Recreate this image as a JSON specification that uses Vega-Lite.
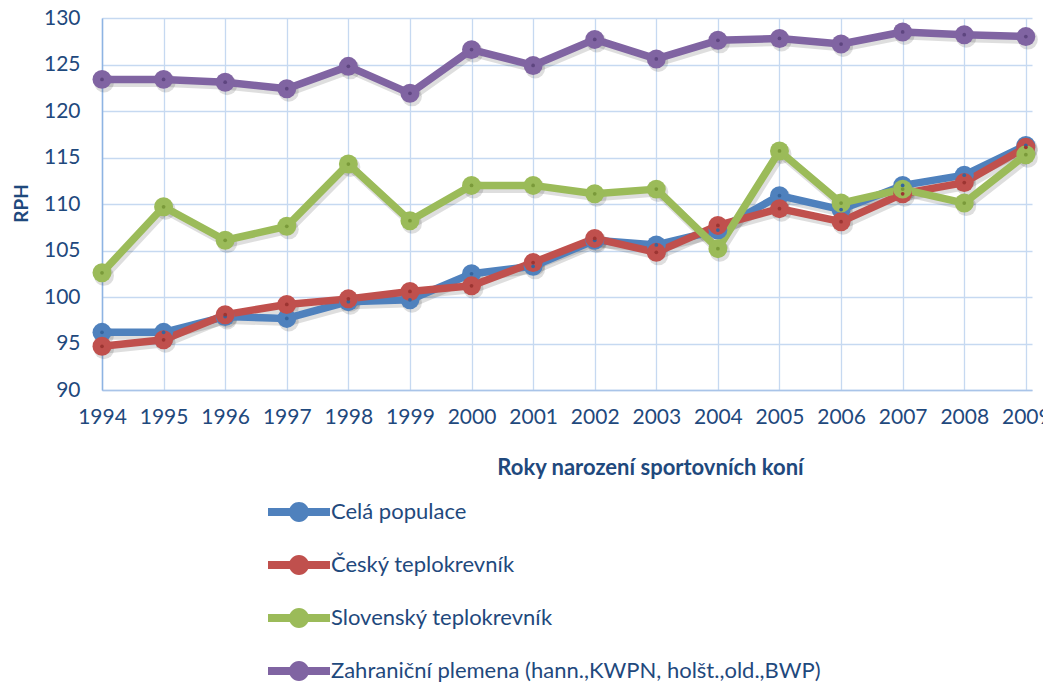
{
  "$schema": "https://vega.github.io/schema/vega-lite/v6.json",
  "width": 930,
  "height": 372,
  "autosize": {"type": "none"},
  "padding": {"left": 102, "top": 18, "right": 11, "bottom": 296},
  "background": "white",
  "config": {
    "font": "Lato",
    "view": {"stroke": null},
    "axis": {"labelColor": "#1F497D", "titleColor": "#1F497D", "gridColor": "#C6D9F1", "gridWidth": 1.3, "ticks": false, "domainColor": "#A9C4E8", "domainWidth": 1.5}
  },
  "data": {
    "values": [
      {"year": 1994, "series": "Celá populace", "value": 96.2},
      {"year": 1995, "series": "Celá populace", "value": 96.2},
      {"year": 1996, "series": "Celá populace", "value": 97.9},
      {"year": 1997, "series": "Celá populace", "value": 97.7},
      {"year": 1998, "series": "Celá populace", "value": 99.5},
      {"year": 1999, "series": "Celá populace", "value": 99.7},
      {"year": 2000, "series": "Celá populace", "value": 102.5},
      {"year": 2001, "series": "Celá populace", "value": 103.3},
      {"year": 2002, "series": "Celá populace", "value": 106.1},
      {"year": 2003, "series": "Celá populace", "value": 105.6},
      {"year": 2004, "series": "Celá populace", "value": 107.2},
      {"year": 2005, "series": "Celá populace", "value": 110.9},
      {"year": 2006, "series": "Celá populace", "value": 109.4},
      {"year": 2007, "series": "Celá populace", "value": 112.0},
      {"year": 2008, "series": "Celá populace", "value": 113.1},
      {"year": 2009, "series": "Celá populace", "value": 116.3},
      {"year": 1994, "series": "Český teplokrevník", "value": 94.7},
      {"year": 1995, "series": "Český teplokrevník", "value": 95.4},
      {"year": 1996, "series": "Český teplokrevník", "value": 98.1},
      {"year": 1997, "series": "Český teplokrevník", "value": 99.2},
      {"year": 1998, "series": "Český teplokrevník", "value": 99.8},
      {"year": 1999, "series": "Český teplokrevník", "value": 100.6},
      {"year": 2000, "series": "Český teplokrevník", "value": 101.2},
      {"year": 2001, "series": "Český teplokrevník", "value": 103.7},
      {"year": 2002, "series": "Český teplokrevník", "value": 106.3},
      {"year": 2003, "series": "Český teplokrevník", "value": 104.8},
      {"year": 2004, "series": "Český teplokrevník", "value": 107.7},
      {"year": 2005, "series": "Český teplokrevník", "value": 109.5},
      {"year": 2006, "series": "Český teplokrevník", "value": 108.1},
      {"year": 2007, "series": "Český teplokrevník", "value": 111.1},
      {"year": 2008, "series": "Český teplokrevník", "value": 112.3},
      {"year": 2009, "series": "Český teplokrevník", "value": 116.1},
      {"year": 1994, "series": "Slovenský teplokrevník", "value": 102.6},
      {"year": 1995, "series": "Slovenský teplokrevník", "value": 109.7},
      {"year": 1996, "series": "Slovenský teplokrevník", "value": 106.1},
      {"year": 1997, "series": "Slovenský teplokrevník", "value": 107.6},
      {"year": 1998, "series": "Slovenský teplokrevník", "value": 114.3},
      {"year": 1999, "series": "Slovenský teplokrevník", "value": 108.2},
      {"year": 2000, "series": "Slovenský teplokrevník", "value": 112.0},
      {"year": 2001, "series": "Slovenský teplokrevník", "value": 112.0},
      {"year": 2002, "series": "Slovenský teplokrevník", "value": 111.1},
      {"year": 2003, "series": "Slovenský teplokrevník", "value": 111.6},
      {"year": 2004, "series": "Slovenský teplokrevník", "value": 105.2},
      {"year": 2005, "series": "Slovenský teplokrevník", "value": 115.7},
      {"year": 2006, "series": "Slovenský teplokrevník", "value": 110.1},
      {"year": 2007, "series": "Slovenský teplokrevník", "value": 111.6},
      {"year": 2008, "series": "Slovenský teplokrevník", "value": 110.1},
      {"year": 2009, "series": "Slovenský teplokrevník", "value": 115.3},
      {"year": 1994, "series": "Zahraniční plemena (hann.,KWPN, holšt.,old.,BWP)", "value": 123.4},
      {"year": 1995, "series": "Zahraniční plemena (hann.,KWPN, holšt.,old.,BWP)", "value": 123.4},
      {"year": 1996, "series": "Zahraniční plemena (hann.,KWPN, holšt.,old.,BWP)", "value": 123.1},
      {"year": 1997, "series": "Zahraniční plemena (hann.,KWPN, holšt.,old.,BWP)", "value": 122.4},
      {"year": 1998, "series": "Zahraniční plemena (hann.,KWPN, holšt.,old.,BWP)", "value": 124.8},
      {"year": 1999, "series": "Zahraniční plemena (hann.,KWPN, holšt.,old.,BWP)", "value": 121.9},
      {"year": 2000, "series": "Zahraniční plemena (hann.,KWPN, holšt.,old.,BWP)", "value": 126.6},
      {"year": 2001, "series": "Zahraniční plemena (hann.,KWPN, holšt.,old.,BWP)", "value": 124.9},
      {"year": 2002, "series": "Zahraniční plemena (hann.,KWPN, holšt.,old.,BWP)", "value": 127.7},
      {"year": 2003, "series": "Zahraniční plemena (hann.,KWPN, holšt.,old.,BWP)", "value": 125.6},
      {"year": 2004, "series": "Zahraniční plemena (hann.,KWPN, holšt.,old.,BWP)", "value": 127.6},
      {"year": 2005, "series": "Zahraniční plemena (hann.,KWPN, holšt.,old.,BWP)", "value": 127.8},
      {"year": 2006, "series": "Zahraniční plemena (hann.,KWPN, holšt.,old.,BWP)", "value": 127.2},
      {"year": 2007, "series": "Zahraniční plemena (hann.,KWPN, holšt.,old.,BWP)", "value": 128.5},
      {"year": 2008, "series": "Zahraniční plemena (hann.,KWPN, holšt.,old.,BWP)", "value": 128.2},
      {"year": 2009, "series": "Zahraniční plemena (hann.,KWPN, holšt.,old.,BWP)", "value": 128.0}
    ]
  },
  "encoding": {
    "x": {
      "field": "year", "type": "quantitative",
      "scale": {"domain": [1994, 2009.1], "nice": false, "zero": false},
      "axis": {
        "values": [1994, 1995, 1996, 1997, 1998, 1999, 2000, 2001, 2002, 2003, 2004, 2005, 2006, 2007, 2008, 2009],
        "format": "d", "labelFontSize": 21, "labelPadding": 16, "labelFlush": false,
        "title": "Roky narození sportovních koní", "titleFontSize": 22, "titleFontWeight": "bold",
        "titleX": 548, "titleY": 77, "titleBaseline": "middle", "titleAnchor": null, "titleAlign": "center"
      }
    },
    "y": {
      "field": "value", "type": "quantitative",
      "scale": {"domain": [90, 130], "nice": false, "zero": false},
      "axis": {
        "values": [90, 95, 100, 105, 110, 115, 120, 125, 130],
        "labelFontSize": 21, "labelPadding": 22, "domainColor": "#8EB4E3",
        "title": "RPH", "titleFontSize": 19, "titleFontWeight": "bold",
        "titleX": -81, "titleY": 185, "titleBaseline": "middle", "titleAlign": "center", "titleAnchor": null
      }
    }
  },
  "layer": [
    {
      "mark": {"type": "line", "strokeWidth": 9, "color": "#000000", "opacity": 0.13, "xOffset": 2, "yOffset": 3, "strokeJoin": "round"},
      "encoding": {"detail": {"field": "series"}}
    },
    {
      "mark": {"type": "point", "filled": true, "size": 400, "color": "#000000", "opacity": 0.13, "xOffset": 2, "yOffset": 3},
      "encoding": {}
    },
    {
      "mark": {"type": "line", "strokeWidth": 7.5, "strokeJoin": "round"},
      "encoding": {
        "color": {
          "field": "series", "type": "nominal",
          "scale": {
            "domain": ["Celá populace", "Český teplokrevník", "Slovenský teplokrevník", "Zahraniční plemena (hann.,KWPN, holšt.,old.,BWP)"],
            "range": ["#4F81BD", "#C0504D", "#9BBB59", "#8064A2"]
          },
          "legend": {
            "orient": "none", "legendX": 177, "legendY": 474, "direction": "vertical", "title": null,
            "symbolType": "M-1.55,-0.2H1.55V0.2H-1.55Z M0.5,0A0.5,0.5 0 1,1 -0.5,0A0.5,0.5 0 1,1 0.5,0Z",
            "symbolSize": 1600, "symbolStrokeWidth": 0, "labelFontSize": 22, "labelColor": "#1F497D",
            "labelOffset": 12, "rowPadding": 22, "padding": 0, "labelLimit": 800,
            "encode": {"symbols": {"update": {"fill": {"scale": "color", "field": "value"}, "fillOpacity": {"value": 1}, "strokeWidth": {"value": 0}}}}
          }
        }
      }
    },
    {
      "mark": {"type": "point", "filled": true, "size": 360, "opacity": 1},
      "encoding": {"color": {"field": "series", "type": "nominal"}}
    },
    {
      "mark": {"type": "point", "filled": true, "size": 14, "opacity": 1},
      "encoding": {
        "color": {
          "field": "series", "type": "nominal",
          "scale": null
        },
        "fill": {
          "field": "series", "type": "nominal",
          "scale": {
            "domain": ["Celá populace", "Český teplokrevník", "Slovenský teplokrevník", "Zahraniční plemena (hann.,KWPN, holšt.,old.,BWP)"],
            "range": ["#35659e", "#9c3532", "#7a9a3a", "#5e4680"]
          },
          "legend": null
        }
      }
    }
  ],
  "resolve": {"scale": {"fill": "independent"}}
}
